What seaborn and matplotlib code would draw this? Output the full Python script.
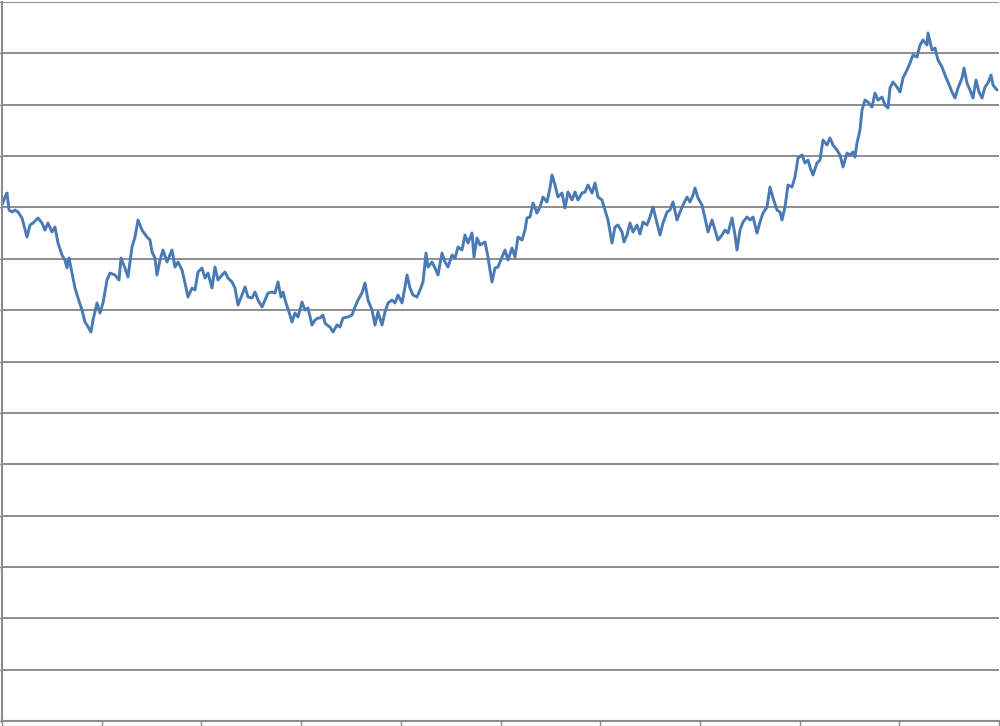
import numpy as np
import pandas as pd
import matplotlib
matplotlib.use("Agg")
import matplotlib.pyplot as plt
import seaborn as sns

# x position (day index) and level of the series
day = [2, 5, 7, 9, 12, 15, 18, 22, 27, 30, 33, 38, 42, 45, 48, 52, 55, 58, 62, 65,
       67, 69, 72, 75, 78, 82, 85, 87, 91, 93, 97, 100, 103, 107, 110, 115, 119, 121, 125, 128,
       132, 135, 138, 142, 147, 150, 152, 155, 157, 160, 163, 167, 172, 175, 178, 182, 185, 188, 192, 195,
       198, 202, 205, 208, 212, 215, 218, 222, 225, 228, 232, 235, 238, 242, 245, 248, 252, 255, 258, 262,
       265, 268, 272, 275, 278, 281, 283, 286, 289, 292, 295, 298, 302, 305, 308, 312, 315, 318, 320, 323,
       325, 327, 330, 333, 337, 340, 343, 348, 352, 355, 358, 362, 365, 368, 372, 375, 378, 382, 385, 388,
       392, 395, 398, 402, 405, 407, 410, 413, 417, 420, 423, 426, 428, 432, 435, 438, 442, 445, 448, 452,
       455, 458, 462, 465, 468, 472, 474, 477, 480, 485, 488, 490, 492, 495, 498, 502, 505, 508, 512, 515,
       518, 522, 525, 527, 530, 533, 537, 540, 543, 547, 550, 552, 555, 558, 562, 565, 568, 572, 575, 578,
       582, 585, 588, 592, 595, 598, 602, 605, 608, 612, 615, 618, 622, 624, 627, 630, 633, 637, 640, 643,
       647, 650, 653, 657, 660, 663, 667, 670, 673, 677, 680, 683, 687, 690, 693, 695, 698, 702, 705, 708,
       712, 715, 718, 722, 725, 728, 732, 735, 737, 740, 743, 747, 750, 753, 757, 760, 763, 767, 770, 773,
       777, 780, 782, 785, 788, 792, 795, 798, 802, 805, 808, 810, 813, 817, 820, 823, 827, 830, 833, 837,
       840, 843, 847, 850, 853, 855, 857, 860, 862, 865, 868, 872, 875, 878, 882, 885, 888, 890, 893, 897,
       900, 903, 907, 910, 913, 917, 920, 923, 927, 928, 932, 935, 938, 942, 945, 948, 952, 955, 958, 962,
       964, 967, 970, 973, 976, 979, 982, 985, 988, 991, 993, 997]

level = [516, 524, 528, 511, 509, 511, 509, 503, 484, 496, 498, 503, 498, 491, 498, 489, 494, 478, 466, 461,
         453, 463, 448, 433, 423, 411, 399, 396, 389, 401, 418, 408, 418, 441, 448, 446, 441, 463, 453, 444,
         474, 484, 501, 491, 484, 481, 469, 463, 446, 461, 471, 459, 471, 454, 459, 451, 438, 424, 433, 431,
         449, 453, 443, 448, 433, 454, 441, 446, 449, 443, 439, 433, 416, 426, 434, 424, 423, 429, 421, 414,
         421, 428, 429, 428, 439, 424, 429, 418, 409, 399, 408, 404, 419, 411, 413, 396, 401, 403, 403, 406,
         398, 396, 394, 389, 396, 394, 403, 404, 406, 414, 421, 428, 438, 421, 411, 396, 409, 396, 409, 418,
         421, 418, 426, 418, 434, 446, 433, 426, 424, 431, 439, 468, 454, 459, 453, 446, 468, 459, 454, 466,
         463, 474, 471, 486, 478, 488, 464, 483, 476, 479, 464, 451, 439, 453, 454, 464, 471, 461, 473, 464,
         484, 481, 491, 503, 504, 518, 508, 514, 524, 519, 533, 546, 536, 524, 528, 513, 529, 521, 529, 521,
         528, 529, 536, 528, 538, 524, 521, 511, 501, 478, 494, 496, 489, 479, 486, 498, 489, 496, 487, 499,
         496, 504, 514, 498, 486, 498, 509, 511, 519, 501, 509, 516, 524, 519, 526, 533, 523, 516, 503, 489,
         501, 491, 481, 486, 491, 488, 503, 486, 471, 491, 499, 504, 501, 504, 488, 499, 508, 514, 534, 523,
         511, 509, 501, 514, 536, 534, 544, 563, 566, 558, 561, 554, 546, 558, 561, 581, 576, 583, 576, 571,
         566, 554, 568, 566, 569, 564, 578, 591, 611, 621, 619, 614, 628, 621, 624, 616, 613, 633, 639, 634,
         629, 643, 651, 658, 666, 664, 676, 681, 676, 688, 671, 673, 661, 654, 646, 639, 629, 623, 633, 643,
         653, 638, 631, 623, 641, 629, 623, 634, 638, 646, 636, 631]

df = pd.DataFrame({"day": day, "level": level})

sns.set_style("white")

fig = plt.figure(figsize=(10, 7.26), dpi=100)
ax = fig.add_axes([0.002, 0.0069, 0.997, 0.9903])

sns.lineplot(data=df, x="day", y="level", ax=ax, color="#4A7AB5", linewidth=2.1)

ax.set_xlim(2, 999)
ax.set_ylim(0, 719)
ax.set_xticks(np.linspace(2, 999, 11))
ax.set_yticks(np.linspace(0, 719, 15))
ax.set_xticklabels([])
ax.set_yticklabels([])
ax.set_xlabel("")
ax.set_ylabel("")

ax.yaxis.grid(True, color="#7a7a7a", linewidth=1.2)
ax.xaxis.grid(False)
ax.set_axisbelow(True)

for side in ["top", "right"]:
    ax.spines[side].set_visible(False)
for side in ["left", "bottom"]:
    ax.spines[side].set_color("#8c8c8c")
    ax.spines[side].set_linewidth(1.5)

ax.tick_params(axis="x", direction="out", length=4, width=1, color="#8c8c8c", bottom=True)
ax.tick_params(axis="y", direction="out", length=3, width=1, color="#8c8c8c", left=True)

fig.savefig("out.png", dpi=100)
